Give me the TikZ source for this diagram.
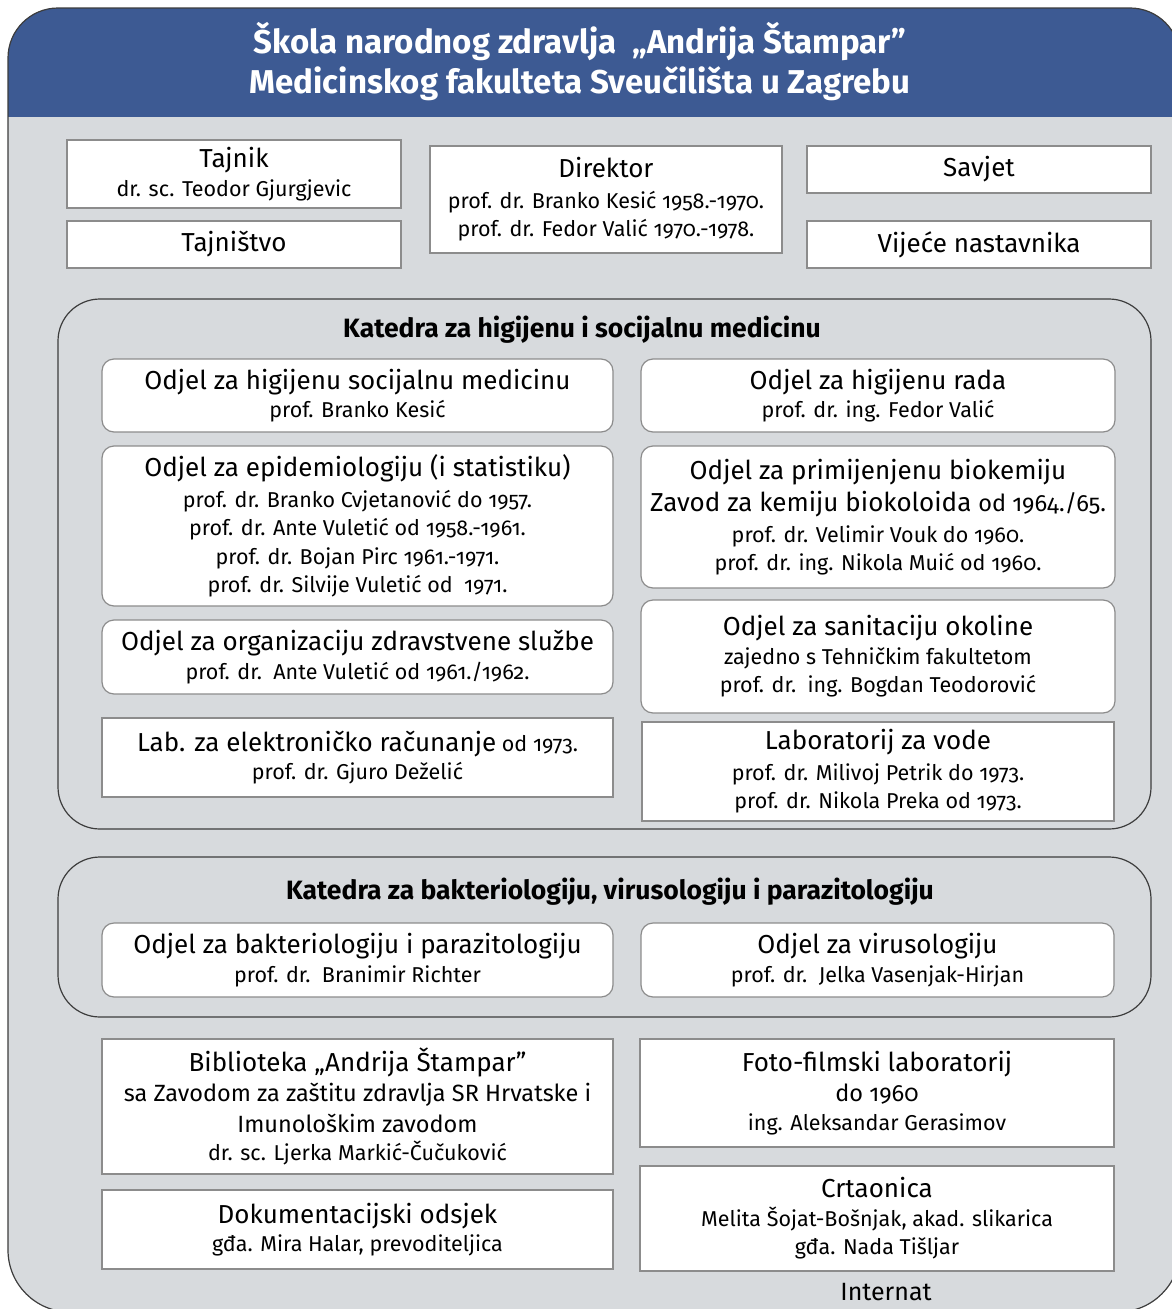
\documentclass[tikz,border=0pt]{standalone}
\usepackage{fontspec}
\setmainfont{Fira Sans}[Numbers=OldStyle]
\usepackage{tikz}

\definecolor{headblue}{RGB}{61,90,147}
\definecolor{bggray}{RGB}{215,218,221}
\definecolor{boxgray}{RGB}{140,140,140}
\definecolor{lineDark}{RGB}{60,60,60}

\newcommand{\ttl}{\fontsize{26}{30}\selectfont}
\newcommand{\mdl}{\fontsize{23.5}{30}\selectfont}
\newcommand{\prs}{\fontsize{21.5}{28.5}\selectfont}

\tikzset{
  box/.style={draw=boxgray, fill=white, line width=1.2pt, inner sep=0pt,
              align=center, font=\prs},
  rbox/.style={box, rounded corners=12pt},
  katedra/.style={draw=lineDark, line width=1.2pt, rounded corners=42pt,
                  inner sep=0pt},
  kattitle/.style={font=\fontsize{26.5}{30}\selectfont\bfseries}
}

\begin{document}
\begin{tikzpicture}[x=1pt, y=-1pt]
\useasboundingbox (0,0) rectangle (1172,1309);
\clip (0,0) rectangle (1172,1309);

% outer frame with header
\def\outline{(8,58) arc[start angle=180, end angle=270, radius=50] -- (1130,8)
  arc[start angle=270, end angle=360, radius=50] -- (1180,1250)
  arc[start angle=0, end angle=90, radius=62] -- (70,1312)
  arc[start angle=90, end angle=180, radius=62] -- cycle}
\fill[bggray] \outline;
\begin{scope}
  \clip \outline;
  \fill[headblue] (0,0) rectangle (1200,117);
\end{scope}
\draw[lineDark, line width=1.2pt] \outline;

\node[text=white, align=center, font=\fontsize{33}{40}\selectfont\bfseries]
  (title) at (580,62) {Škola narodnog zdravlja\ \ „Andrija Štampar”\\
                       Medicinskog fakulteta Sveučilišta u Zagrebu};

% top row
\node[box, minimum width=334, minimum height=68] (tajnik) at (234,174)
  {{\ttl Tajnik}\\ dr. sc. Teodor Gjurgjevic};
\node[box, minimum width=334, minimum height=47] (tajnistvo) at (234,244.5)
  {{\ttl Tajništvo}};
\node[box, minimum width=352, minimum height=107] (direktor) at (606,199.5)
  {{\ttl Direktor}\\[2pt] prof. dr. Branko Kesić 1958.-1970.\\
   prof. dr. Fedor Valić 1970.-1978.};
\node[box, minimum width=344, minimum height=47] (savjet) at (979,169.5)
  {{\ttl Savjet}};
\node[box, minimum width=344, minimum height=47] (vijece) at (979,244.5)
  {{\ttl Vijeće nastavnika}};

% Katedra za higijenu i socijalnu medicinu
\node[katedra, minimum width=1093, minimum height=530] (kathig) at (604.5,564) {};
\node[kattitle] (kathigtitle) at (582,330)
  {Katedra za higijenu i socijalnu medicinu};

\node[rbox, minimum width=511, minimum height=73] (higsoc) at (357.5,395.5)
  {{\ttl Odjel za higijenu socijalnu medicinu}\\ prof. Branko Kesić};
\node[rbox, minimum width=511, minimum height=160] (epid) at (357.5,526)
  {{\ttl Odjel za epidemiologiju (i statistiku)}\\[2pt]
   prof. dr. Branko Cvjetanović do 1957.\\
   prof. dr. Ante Vuletić od 1958.-1961.\\
   prof. dr. Bojan Pirc 1961.-1971.\\
   prof. dr. Silvije Vuletić od\ \ 1971.};
\node[rbox, minimum width=511, minimum height=74] (organ) at (357.5,657)
  {{\ttl Odjel za organizaciju zdravstvene službe}\\
   prof. dr.\ \ Ante Vuletić od 1961./1962.};
\node[box, minimum width=511, minimum height=79] (labrac) at (357.5,757.5)
  {{\ttl Lab. za elektroničko računanje} od 1973.\\ prof. dr. Gjuro Deželić};

\node[rbox, minimum width=474, minimum height=73] (higrad) at (878,395.5)
  {{\ttl Odjel za higijenu rada}\\ prof. dr. ing. Fedor Valić};
\node[rbox, minimum width=474, minimum height=142] (biokem) at (878,517)
  {{\ttl Odjel za primijenjenu biokemiju}\\[4pt]
   {\ttl Zavod za kemiju biokoloida {\mdl od 1964./65.}}\\[2pt]
   prof. dr. Velimir Vouk do 1960.\\
   prof. dr. ing. Nikola Muić od 1960.};
\node[rbox, minimum width=474, minimum height=113] (sanit) at (878,656.5)
  {{\ttl Odjel za sanitaciju okoline}\\
   zajedno s Tehničkim fakultetom\\
   prof. dr.\ \ ing. Bogdan Teodorović};
\node[box, minimum width=472, minimum height=99] (vode) at (878,771.5)
  {{\ttl Laboratorij za vode}\\[2pt]
   prof. dr. Milivoj Petrik do 1973.\\
   prof. dr. Nikola Preka od 1973.};

% Katedra za bakteriologiju, virusologiju i parazitologiju
\node[katedra, minimum width=1093, minimum height=160] (katbak) at (604.5,937) {};
\node[kattitle] (katbaktitle) at (610,892)
  {Katedra za bakteriologiju, virusologiju i parazitologiju};

\node[rbox, minimum width=511, minimum height=74] (bakt) at (357.5,960)
  {{\ttl Odjel za bakteriologiju i parazitologiju}\\
   prof. dr.\ \ Branimir Richter};
\node[rbox, minimum width=473, minimum height=74] (virus) at (877.5,960)
  {{\ttl Odjel za virusologiju}\\ prof. dr.\ \ Jelka Vasenjak-Hirjan};

% bottom
\node[box, minimum width=511, minimum height=135] (biblio) at (357.5,1106.5)
  {{\ttl Biblioteka „Andrija Štampar”}\\[2pt]
   {\mdl sa Zavodom za zaštitu zdravlja SR Hrvatske i}\\[2pt]
   {\mdl Imunološkim zavodom}\\
   dr. sc. Ljerka Markić-Čučuković};
\node[box, minimum width=511, minimum height=79] (dokum) at (357.5,1229.5)
  {{\ttl Dokumentacijski odsjek}\\ gđa. Mira Halar, prevoditeljica};
\node[box, minimum width=474, minimum height=108] (foto) at (877,1093)
  {{\ttl Foto-filmski laboratorij}\\[2pt] {\mdl do 1960}\\
   ing. Aleksandar Gerasimov};
\node[box, minimum width=474, minimum height=105] (crt) at (877,1218.5)
  {{\ttl Crtaonica}\\ Melita Šojat-Bošnjak, akad. slikarica\\
   gđa. Nada Tišljar};
\node[font=\fontsize{25}{30}\selectfont] (internat) at (886,1292) {Internat};
\end{tikzpicture}
\end{document}
